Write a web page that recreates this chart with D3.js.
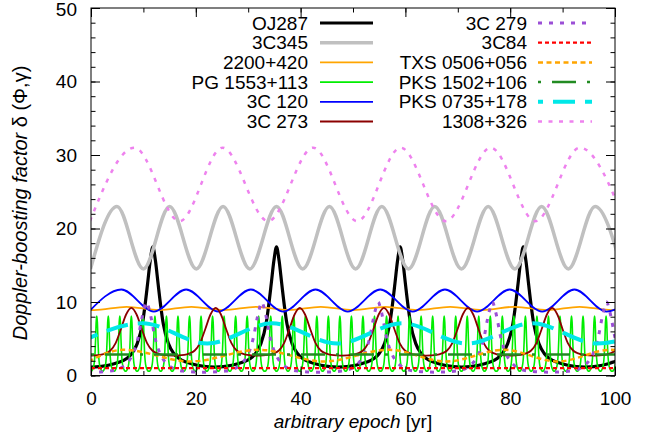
<!DOCTYPE html>
<html>
<head>
<meta charset="utf-8">
<script src="https://cdnjs.cloudflare.com/ajax/libs/d3/7.8.5/d3.min.js"></script>
<style>
  body { margin: 0; background: #fff; }
  svg { display: block; }
  text { font-family: "Liberation Sans", Arial, sans-serif; fill: #000; }
</style>
</head>
<body>
<svg id="chart" width="657" height="444"></svg>
<script>
// ---- data ----------------------------------------------------------------
var xTicks = [0, 20, 40, 60, 80, 100];
var yTicks = [0, 10, 20, 30, 40, 50];

// OJ287 : flare epochs + flare profile (offset from peak [yr], delta)
var ojPeaks = [-11.8, 11.8, 35.4, 59.0, 82.5, 106.1];
var ojDt  = [-11.75, -8.5, -6.5, -5, -4, -3, -2, -1.5, -1, -0.5, 0, 0.5, 1, 1.5, 2, 3, 4, 5, 6.5, 8.5, 11.75];
var ojVal = [1.15, 1.4, 1.8, 2.3, 3.0, 4.3, 7.0, 9.5, 12.5, 15.6, 17.5, 15.6, 12.5, 9.5, 7.0, 4.3, 3.0, 2.3, 1.8, 1.4, 1.15];

// 3C345 : extrema
var c345 = [[-0.1, 14.5], [4.96, 23.0], [10.0, 14.5], [15.0, 23.0], [20.1, 14.5], [25.2, 23.0],
  [30.3, 14.5], [35.4, 23.0], [40.4, 14.5], [45.5, 23.0], [50.5, 14.5], [55.5, 23.0],
  [60.6, 14.5], [65.6, 23.0], [70.7, 14.5], [75.8, 23.0], [80.9, 14.5], [86.0, 23.0],
  [91.1, 14.5], [96.2, 23.0], [101.3, 14.5]];

// 2200+420
var c2200 = [[-5.55, 9.35], [0.6, 8.9], [6.8, 9.35], [13.0, 8.9], [19.15, 9.35], [25.3, 8.9],
  [31.5, 9.35], [37.7, 8.9], [43.85, 9.35], [50.0, 8.9], [56.2, 9.35], [62.4, 8.9],
  [68.55, 9.35], [74.7, 8.9], [80.9, 9.35], [87.1, 8.9], [93.25, 9.35], [99.4, 8.9], [105.6, 9.35]];

// PG 1553+113 : spike epochs + spike profile
var pgPeaks = [-1.1, 1.1, 3.3, 5.5, 7.7, 9.9, 12.2, 14.4, 16.6, 18.8, 21.0, 23.2, 25.4, 27.6,
  29.8, 32.0, 34.3, 36.5, 38.7, 40.9, 43.1, 45.3, 47.5, 49.7, 51.9, 54.1, 56.4, 58.6, 60.8,
  63.0, 65.2, 67.4, 69.6, 71.8, 74.0, 76.2, 78.5, 80.7, 82.9, 85.1, 87.3, 89.5, 91.7, 93.9,
  96.1, 98.3, 100.6];
var pgDt  = [-1.0, -0.8, -0.6, -0.45, -0.32, -0.22, -0.12, 0, 0.12, 0.22, 0.32, 0.45, 0.6, 0.8, 1.0];
var pgVal = [0.6, 0.8, 1.2, 1.9, 3.2, 5.0, 7.2, 8.1, 7.2, 5.0, 3.2, 1.9, 1.2, 0.8, 0.6];

// 3C 120
var c120 = [[-0.4, 8.7], [5.8, 11.7], [12.0, 8.7], [18.15, 11.7], [24.3, 8.7], [30.5, 11.7],
  [36.7, 8.7], [42.85, 11.7], [49.0, 8.7], [55.2, 11.7], [61.4, 8.7], [67.55, 11.7],
  [73.7, 8.7], [79.9, 11.7], [86.1, 8.7], [92.25, 11.7], [98.4, 8.7], [104.6, 11.7]];

// 3C 273 : flare epochs + profile
var c273Peaks = [-8.35, 7.7, 23.8, 39.85, 55.9, 71.95, 88.0, 104.05];
var c273Dt  = [-8, -6, -5, -4, -3, -2, -1, 0, 1, 2, 3, 4, 5, 6, 8];
var c273Val = [2.7, 2.8, 3.0, 3.4, 4.4, 6.3, 8.3, 9.2, 8.3, 6.3, 4.4, 3.4, 3.0, 2.8, 2.7];

// 3C 279 : flare epochs + profile
var c279Peaks = [-11.4, 10.6, 32.6, 54.8, 76.6, 98.4, 120.4];
var c279Dt  = [-10.9, -7, -5, -4, -3, -2, -1.5, -1, -0.5, 0, 0.5, 1, 1.5, 2, 3, 4, 5, 7, 10.9];
var c279Val = [0.45, 0.6, 1.0, 1.5, 2.4, 4.1, 5.5, 7.4, 9.0, 10.0, 9.0, 7.4, 5.5, 4.1, 2.4, 1.5, 1.0, 0.6, 0.45];

// 3C84
var c84 = [[0, 1.0], [100, 1.0]];

// TXS 0506+056
var txs = [[-0.5, 1.9], [6.2, 3.5], [19.0, 1.9], [32.0, 3.5], [44.4, 1.9], [56.8, 3.5],
  [67.8, 1.9], [78.8, 3.5], [89.0, 1.9], [99.2, 3.5], [105.0, 2.5]];

// PKS 1502+106
var pks1502 = [[0, 2.85], [100, 2.85]];

// PKS 0735+178
var pks0735 = [[-2.6, 4.35], [9.8, 7.1], [22.2, 4.35], [34.6, 7.1], [47.0, 4.35], [59.4, 7.1],
  [71.8, 4.35], [84.2, 7.1], [96.6, 4.35], [109.0, 7.1]];

// 1308+326
var c1308 = [[-0.2, 21.0], [8.3, 31.0], [16.9, 21.0], [25.1, 31.0], [33.8, 21.0], [42.4, 31.0],
  [50.8, 21.0], [59.1, 31.0], [67.7, 21.0], [76.3, 31.0], [84.8, 21.0], [93.3, 31.0], [101.8, 21.0]];

// ---- helpers --------------------------------------------------------------
function flareCurve(peaks, dt, val) {
  var pts = [];
  peaks.forEach(function (p) {
    dt.forEach(function (d, i) { pts.push([p + d, val[i]]); });
  });
  pts.sort(function (a, b) { return a[0] - b[0]; });
  return pts.filter(function (d, i) { return i === 0 || d[0] > pts[i - 1][0] + 1e-6; });
}

var series = [
  { name: "OJ287",        data: flareCurve(ojPeaks, ojDt, ojVal),       color: "#000000", w: 3.2, dash: null,        col: 0 },
  { name: "3C345",        data: c345,                                   color: "#c0c0c0", w: 3.5, dash: null,        col: 0 },
  { name: "2200+420",     data: c2200,                                  color: "#ffa500", w: 1.8, dash: null,        col: 0 },
  { name: "PG 1553+113",  data: flareCurve(pgPeaks, pgDt, pgVal),       color: "#00ee00", w: 1.6, dash: null,        col: 0 },
  { name: "3C 120",       data: c120,                                   color: "#0000ff", w: 1.8, dash: null,        col: 0 },
  { name: "3C 273",       data: flareCurve(c273Peaks, c273Dt, c273Val), color: "#8b0000", w: 1.8, dash: null,        col: 0 },
  { name: "3C 279",       data: flareCurve(c279Peaks, c279Dt, c279Val), color: "#9b4fd6", w: 3,   dash: "4,7",       col: 1 },
  { name: "3C84",         data: c84,                                    color: "#ff0000", w: 2.2, dash: "4,3",       col: 1 },
  { name: "TXS 0506+056", data: txs,                                    color: "#ffa500", w: 2.5, dash: "5,3.5",     col: 1 },
  { name: "PKS 1502+106", data: pks1502,                                color: "#228b22", w: 2.5, dash: "3,11,24,11", col: 1 },
  { name: "PKS 0735+178", data: pks0735,                                color: "#00e8e8", w: 4,   dash: "22,10",     col: 1, legOff: 17 },
  { name: "1308+326",     data: c1308,                                  color: "#ee82ee", w: 2.5, dash: "4,6.5",     col: 1 }
];

// ---- drawing --------------------------------------------------------------
var svg = d3.select("#chart");
var x = d3.scaleLinear().domain([0, 100]).range([91, 615]);
var y = d3.scaleLinear().domain([0, 50]).range([375.5, 8]);

svg.append("defs").append("clipPath").attr("id", "plotclip")
  .append("rect")
  .attr("x", x(0)).attr("y", y(50))
  .attr("width", x(100) - x(0)).attr("height", y(0) - y(50));

var line = d3.line()
  .x(function (d) { return x(d[0]); })
  .y(function (d) { return y(d[1]); })
  .curve(d3.curveMonotoneX);

var plot = svg.append("g").attr("clip-path", "url(#plotclip)");
series.forEach(function (s) {
  plot.append("path")
    .datum(s.data)
    .attr("fill", "none")
    .attr("stroke", s.color)
    .attr("stroke-width", s.w)
    .attr("stroke-dasharray", s.dash)
    .attr("stroke-linejoin", "round")
    .attr("d", line);
});

// axes (ticks pointing inward, mirrored on top/right)
function styleAxis(g) {
  g.select(".domain").remove();
  g.selectAll(".tick line").attr("stroke", "#000").attr("stroke-width", 1);
  g.selectAll("text").style("font-size", "19px").attr("fill", "#000");
}
var xMinor = d3.range(0, 101, 10);
var yMinor = d3.range(0, 51, 2);

svg.append("g").attr("transform", "translate(0," + y(0) + ")")
  .call(d3.axisBottom(x).tickValues(xTicks).tickSizeInner(-9).tickSizeOuter(0).tickPadding(16).tickFormat(d3.format("d")))
  .call(styleAxis);
svg.append("g").attr("transform", "translate(0," + y(0) + ")")
  .call(d3.axisBottom(x).tickValues(xMinor).tickSizeInner(-4.5).tickSizeOuter(0).tickFormat(""))
  .call(styleAxis);
svg.append("g").attr("transform", "translate(0," + y(50) + ")")
  .call(d3.axisTop(x).tickValues(xTicks).tickSizeInner(-9).tickSizeOuter(0).tickFormat(""))
  .call(styleAxis);
svg.append("g").attr("transform", "translate(0," + y(50) + ")")
  .call(d3.axisTop(x).tickValues(xMinor).tickSizeInner(-4.5).tickSizeOuter(0).tickFormat(""))
  .call(styleAxis);

var yAxisG = svg.append("g").attr("transform", "translate(" + x(0) + ",0)")
  .call(d3.axisLeft(y).tickValues(yTicks).tickSizeInner(-9).tickSizeOuter(0).tickPadding(14).tickFormat(d3.format("d")))
  .call(styleAxis);
// keep the top label inside the page
yAxisG.selectAll(".tick text").filter(function (d) { return d === 50; }).attr("dy", "0.42em");
svg.append("g").attr("transform", "translate(" + x(0) + ",0)")
  .call(d3.axisLeft(y).tickValues(yMinor).tickSizeInner(-4.5).tickSizeOuter(0).tickFormat(""))
  .call(styleAxis);
svg.append("g").attr("transform", "translate(" + x(100) + ",0)")
  .call(d3.axisRight(y).tickValues(yTicks).tickSizeInner(-9).tickSizeOuter(0).tickFormat(""))
  .call(styleAxis);
svg.append("g").attr("transform", "translate(" + x(100) + ",0)")
  .call(d3.axisRight(y).tickValues(yMinor).tickSizeInner(-4.5).tickSizeOuter(0).tickFormat(""))
  .call(styleAxis);

// border
svg.append("rect")
  .attr("x", x(0)).attr("y", y(50))
  .attr("width", x(100) - x(0)).attr("height", y(0) - y(50))
  .attr("fill", "none").attr("stroke", "#000").attr("stroke-width", 1);

// legend
var legCols = [{ textX: 308, x1: 320, x2: 373 }, { textX: 527, x1: 538, x2: 592 }];
var rowCount = [0, 0];
var legend = svg.append("g");
series.forEach(function (s) {
  var c = legCols[s.col];
  var ry = 23 + rowCount[s.col] * 19.7;
  rowCount[s.col]++;
  legend.append("text")
    .attr("x", c.textX).attr("y", ry).attr("dy", "0.35em")
    .attr("text-anchor", "end")
    .style("font-size", "19px")
    .text(s.name);
  legend.append("line")
    .attr("x1", c.x1).attr("x2", c.x2).attr("y1", ry).attr("y2", ry)
    .attr("stroke", s.color)
    .attr("stroke-width", s.w)
    .attr("stroke-dasharray", s.dash)
    .attr("stroke-dashoffset", s.legOff || 0);
});

// axis titles
var xt = svg.append("text")
  .attr("x", (x(0) + x(100)) / 2).attr("y", 428)
  .attr("text-anchor", "middle")
  .style("font-size", "19px");
xt.append("tspan").style("font-style", "italic").text("arbitrary epoch");
xt.append("tspan").text(" [yr]");

var yt = svg.append("text")
  .attr("transform", "translate(27,203) rotate(-90)")
  .attr("text-anchor", "middle")
  .style("font-size", "20px");
yt.append("tspan").style("font-style", "italic").text("Doppler-boosting factor");
yt.append("tspan").text(" \u03b4 (\u03a6,\u03b3)");
</script>
</body>
</html>
